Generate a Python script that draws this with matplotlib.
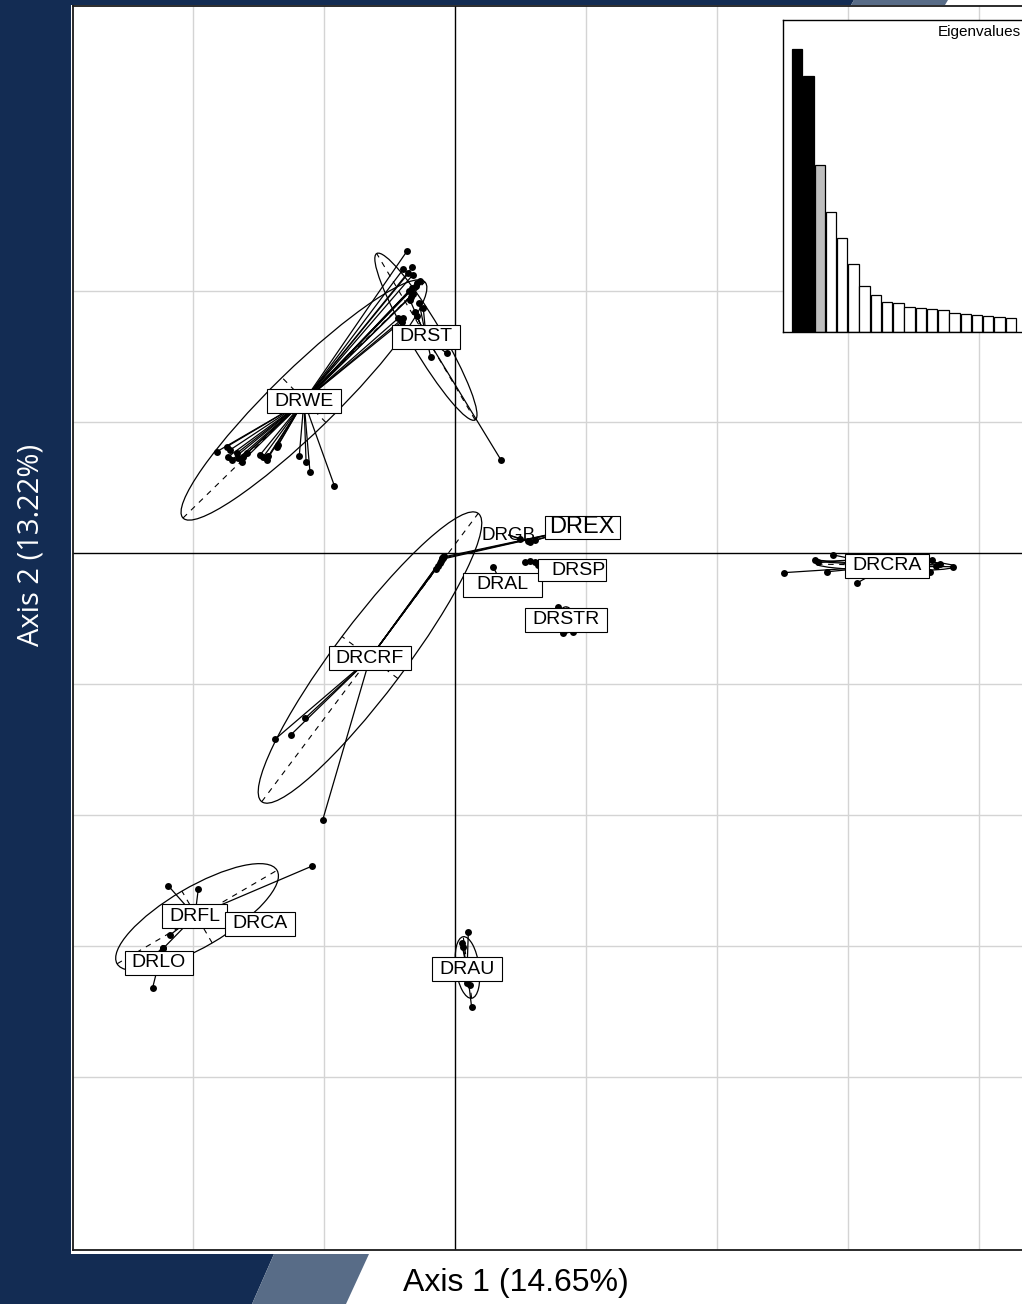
import numpy as np
import matplotlib
matplotlib.use("Agg")
import matplotlib.pyplot as plt
from matplotlib.patches import Ellipse, Rectangle, Polygon
from matplotlib.transforms import IdentityTransform

plt.rcParams['font.family'] = ['Liberation Sans', 'DejaVu Sans']

# ---------------- data ----------------
x_label = "Axis 1 (14.65%)"
y_label = "Axis 2 (13.22%)"

eigenvalues = [283, 256, 167, 120, 94, 68, 46, 37, 30, 29, 25, 24, 23, 22, 19, 18, 17, 16, 15, 14]

groups = ["DRWE", "DRST", "DRCRF", "DREX", "DRGB", "DRAL", "DRSP", "DRSTR",
          "DRCRA", "DRFL", "DRCA", "DRLO", "DRAU"]
centroid_x = [-1.153, -0.221, -0.649, 0.969, 0.411, 0.359, 0.939, 0.847,
              3.298, -1.985, -1.489, -2.260, 0.092]
centroid_y = [1.160, 1.649, -0.802, 0.195, 0.137, -0.244, -0.130, -0.511,
              -0.099, -2.771, -2.832, -3.126, -3.179]

drwe_x = [-1.819, -1.743, -1.718, -1.731, -1.705, -1.666, -1.654, -1.628, -1.616, -1.590,
          -1.489, -1.463, -1.437, -1.425, -1.361, -1.349, -1.189, -1.137, -1.107, -0.921,
          -0.364, -0.395, -0.326, -0.356, -0.323, -0.267, -0.292, -0.331, -0.338, -0.433,
          -0.395, -0.407, -0.350, -0.300, -0.318]
drwe_y = [0.773, 0.811, 0.786, 0.735, 0.710, 0.761, 0.723, 0.697, 0.735, 0.761,
          0.748, 0.735, 0.710, 0.740, 0.811, 0.824, 0.740, 0.697, 0.616, 0.514,
          2.308, 2.166, 2.181, 2.135, 2.122, 2.079, 2.059, 2.021, 1.956, 1.792,
          1.792, 1.766, 2.000, 2.040, 1.980]
drst_x = [-0.273, -0.242, -0.305, -0.292, -0.344, -0.063, -0.185, 0.351]
drst_y = [1.906, 1.868, 1.842, 1.809, 1.931, 1.524, 1.494, 0.710]
drcrf_x = [-0.094, -0.115, -0.084, -0.130, -0.145, -0.105, -1.145, -1.254, -1.374, -1.010]
drcrf_y = [-0.040, -0.079, -0.023, -0.099, -0.122, -0.060, -1.262, -1.389, -1.422, -2.038]
drex_x = [-0.102, -0.092, -0.098, 0.573, 0.611, 0.916, 1.069]
drex_y = [-0.048, -0.031, -0.040, 0.086, 0.099, 0.176, 0.214]
drgb_x = [0.557, 0.496]
drgb_y = [0.092, 0.107]
dral_x = [0.292, 0.382, 0.458]
dral_y = [-0.105, -0.267, -0.237]
drsp_x = [0.534, 0.573, 0.611, 0.636, 0.954]
drsp_y = [-0.066, -0.059, -0.066, -0.092, -0.145]
drstr_x = [0.786, 0.824, 0.901, 0.847]
drstr_y = [-0.412, -0.608, -0.601, -0.511]
drcra_x = [2.511, 2.748, 2.773, 2.888, 2.842, 3.066, 3.639, 3.626, 3.702, 3.804, 3.672]
drcra_y = [-0.150, -0.053, -0.066, -0.015, -0.143, -0.231, -0.053, -0.143, -0.084, -0.105, -0.099]
drfl_x = [-2.189, -1.960, -1.089, -2.176, -2.227]
drfl_y = [-2.540, -2.567, -2.389, -2.916, -3.018]
drca_x = [-1.565, -1.412]
drca_y = [-2.847, -2.809]
drlo_x = [-2.227, -2.244, -2.308]
drlo_y = [-3.018, -3.042, -3.318]
drau_x = [0.102, 0.051, 0.063, 0.115, 0.089, 0.127]
drau_y = [-2.891, -2.979, -3.005, -3.298, -3.285, -3.468]

member_x = [drwe_x, drst_x, drcrf_x, drex_x, drgb_x, dral_x, drsp_x, drstr_x,
            drcra_x, drfl_x, drca_x, drlo_x, drau_x]
member_y = [drwe_y, drst_y, drcrf_y, drex_y, drgb_y, dral_y, drsp_y, drstr_y,
            drcra_y, drfl_y, drca_y, drlo_y, drau_y]

ellipse_group = ["DRWE", "DRST", "DRCRF", "DRCRA", "DRFL", "DRAU", "DRSTR"]
ellipse_cx = [-1.153, -0.222, -0.649, 3.290, -1.969, 0.095, 0.847]
ellipse_cy = [1.168, 1.651, -0.798, -0.094, -2.779, -3.164, -0.511]
ellipse_a = [1.290, 0.738, 1.376, 0.527, 0.707, 0.237, 0.100]
ellipse_b = [0.240, 0.122, 0.267, 0.040, 0.229, 0.089, 0.060]
ellipse_angle = [44.3, 120.6, 53.1, -1.0, 30.3, 97.8, 90.0]

grid_x = [-2, -1, 1, 2, 3, 4]
grid_y = [2, 1, -1, -2, -3, -4]

# ---------------- figure ----------------
W, H = 1022, 1304
DPI = 100
fig = plt.figure(figsize=(W / DPI, H / DPI), dpi=DPI)
fig.patch.set_facecolor('white')

NAVY = '#132c53'
SLATE = '#586c87'

def tl(pts):
    return [(x, H - y) for x, y in pts]

# decorations (pixel coordinates, top-left origin)
deco = [
    ([(0, 0), (71, 0), (71, H), (0, H)], NAVY),
    ([(0, 0), (854, 0), (851, 5), (0, 5)], NAVY),
    ([(854, 0), (948, 0), (945, 5), (851, 5)], SLATE),
    ([(0, 1254), (274, 1254), (252, H), (0, H)], NAVY),
    ([(274, 1254), (369, 1254), (346, H), (252, H)], SLATE),
]
for pts, col in deco:
    fig.add_artist(Polygon(tl(pts), closed=True, facecolor=col, edgecolor='none',
                           transform=IdentityTransform(), zorder=0))

# main axes: 131 px per unit, origin at (455, 553)
PX = 131.0
OX, OY = 455.0, 553.0
L, T, B, R = 73.0, 6.0, 1250.0, 1100.0
ax = fig.add_axes([L / W, (H - B) / H, (R - L) / W, (B - T) / H])
ax.set_xlim((L - OX) / PX, (R - OX) / PX)
ax.set_ylim((OY - B) / PX, (OY - T) / PX)
ax.set_xticks([])
ax.set_yticks([])
for s in ax.spines.values():
    s.set_linewidth(1.3)
    s.set_color('#1a1a1a')

for gx in grid_x:
    ax.axvline(gx, color='#d4d4d4', lw=1.0, zorder=1)
for gy in grid_y:
    ax.axhline(gy, color='#d4d4d4', lw=1.0, zorder=1)
ax.axvline(0, color='black', lw=1.0, zorder=2)
ax.axhline(0, color='black', lw=1.0, zorder=2)

# ellipses with dashed axes
for cx, cy, a, b, ang in zip(ellipse_cx, ellipse_cy, ellipse_a, ellipse_b, ellipse_angle):
    ax.add_patch(Ellipse((cx, cy), 2 * a, 2 * b, angle=ang, fill=False,
                         edgecolor='black', lw=0.9, zorder=3))
    t = np.deg2rad(ang)
    ux, uy = np.cos(t), np.sin(t)
    ax.plot([cx - a * ux, cx + a * ux], [cy - a * uy, cy + a * uy],
            color='black', lw=0.8, ls=(0, (5, 5)), zorder=3)
    ax.plot([cx + b * uy, cx - b * uy], [cy - b * ux, cy + b * ux],
            color='black', lw=0.8, ls=(0, (5, 5)), zorder=3)

# star lines and points
for cx, cy, xs, ys in zip(centroid_x, centroid_y, member_x, member_y):
    for px, py in zip(xs, ys):
        ax.plot([cx, px], [cy, py], color='black', lw=0.9, zorder=4)
    ax.plot(xs, ys, 'o', color='black', ms=5.0, mec='black', mew=0, zorder=5)

# labels
label_size = {"DREX": 17, "DRGB": 13.5}
label_family = {"DREX": ['Liberation Sans Narrow', 'Liberation Sans', 'DejaVu Sans']}
label_pad = {"DREX": (4, 5), "DRAL": (13, 14), "DRSP": (13, 1)}
label_h = {"DREX": 23, "DRSP": 22}
no_box = {"DRGB"}

texts = []
for g, cx, cy in zip(groups, centroid_x, centroid_y):
    kw = {}
    if g in label_family:
        kw['family'] = label_family[g]
    t = ax.text(cx, cy, g, ha='center', va='center', fontsize=label_size.get(g, 14),
                zorder=7, **kw)
    texts.append((g, t))

# eigenvalue inset
IL, IT, IR, IB = 783.0, 20.0, 1025.0, 332.0
axi = fig.add_axes([IL / W, (H - IB) / H, (IR - IL) / W, (IB - IT) / H])
axi.set_zorder(10)
bar_colors = ['black', 'black', '#bebebe'] + ['white'] * (len(eigenvalues) - 3)
axi.bar(np.arange(len(eigenvalues)), eigenvalues, width=0.93, color=bar_colors,
        edgecolor='black', lw=0.9)
axi.set_xlim(-1.27, 20.27)
axi.set_ylim(0, IB - IT)
axi.set_xticks([])
axi.set_yticks([])
for s in axi.spines.values():
    s.set_linewidth(1.0)
    s.set_color('black')
axi.text(0.983, 0.962, 'Eigenvalues', ha='right', va='center', fontsize=11,
         transform=axi.transAxes)

# axis titles
fig.text(516 / W, (H - 1283.5) / H, x_label, ha='center', va='center', fontsize=23,
         color='black')
fig.text(31 / W, (H - 545) / H, y_label, ha='center', va='center', fontsize=21,
         rotation=90, color='white', family=['Open Sans', 'DejaVu Sans'])

# label boxes sized from rendered text
fig.canvas.draw()
rend = fig.canvas.get_renderer()
for g, t in texts:
    if g in no_box:
        continue
    bb = t.get_window_extent(rend)
    pl, pr = label_pad.get(g, (7, 7))
    h = label_h.get(g, 24)
    ym = (bb.y0 + bb.y1) / 2.0
    rect = Rectangle((bb.x0 - pl, ym - h / 2.0), bb.width + pl + pr, h,
                     facecolor='white', edgecolor='black', lw=0.8,
                     transform=IdentityTransform(), zorder=6.5)
    ax.add_patch(rect)

fig.savefig('out.png', dpi=DPI, facecolor='white')
